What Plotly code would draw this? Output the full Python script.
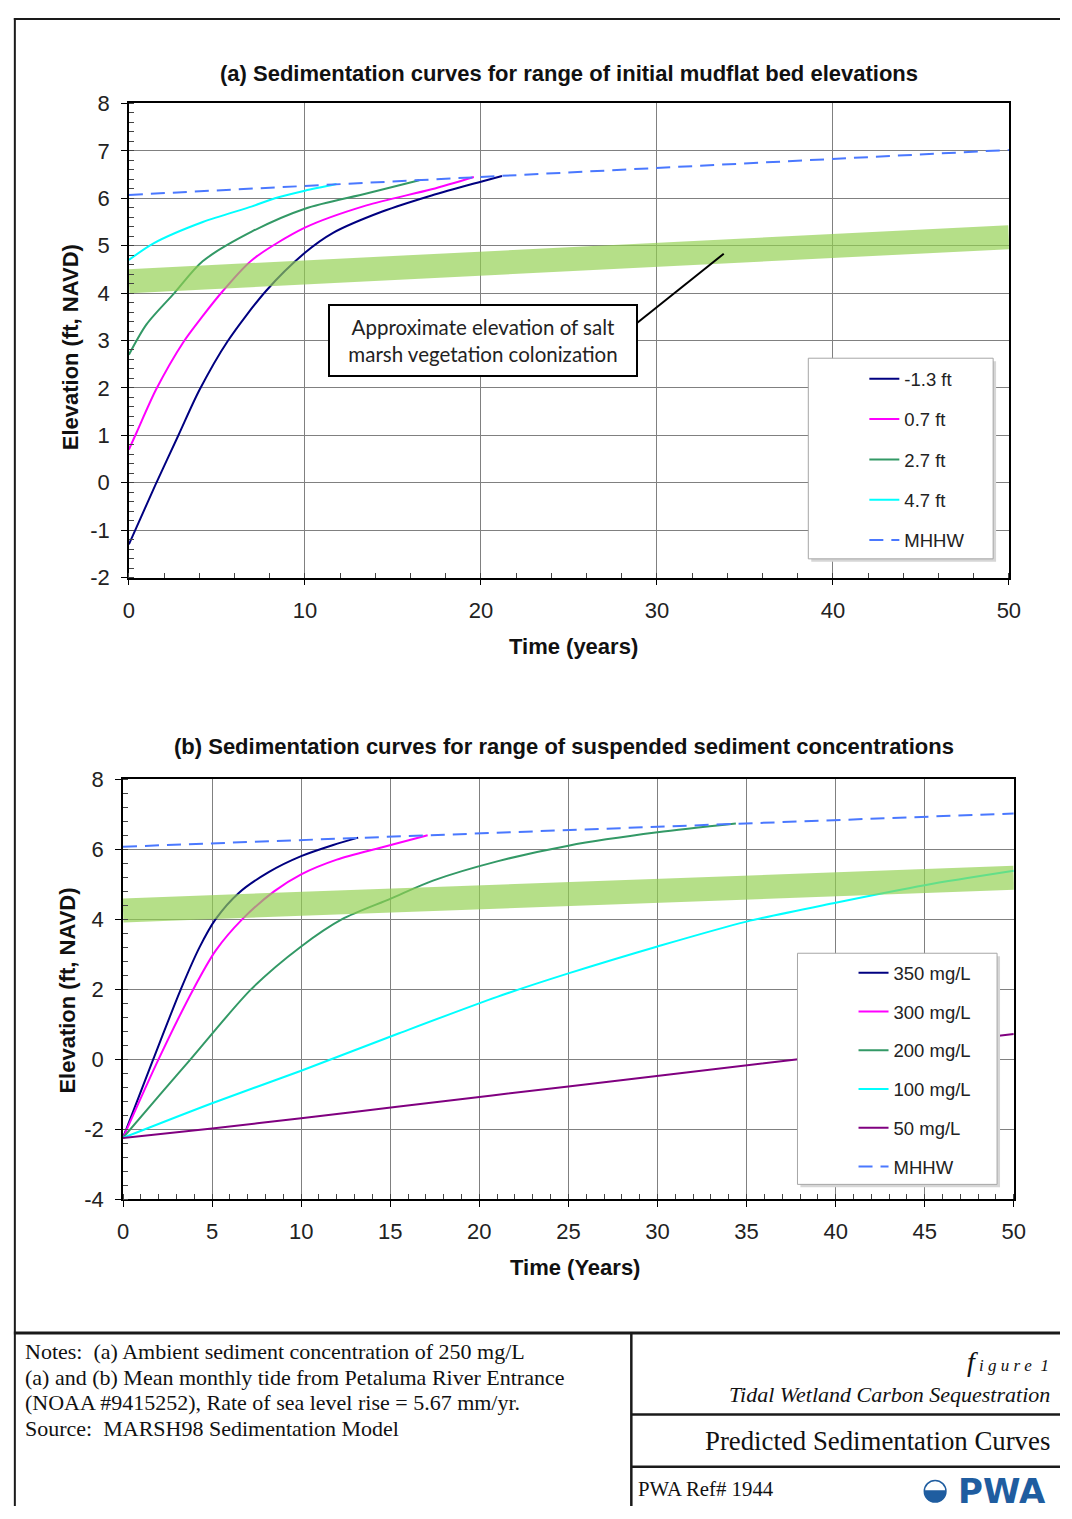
import plotly.graph_objects as go

# page geometry (figure fills the 1072x1519 window)
OX, OY = 0, 0
FW, FH = 1072, 1519

# ---------------- data: panel (a) initial bed elevations ----------------
T_A_M13 = [0, 1.5, 2.8, 4.0, 5.6, 7.8, 10, 11.6, 14.4, 17.2, 20, 21.2]
E_A_M13 = [-1.3, -0.05, 0.99, 1.95, 2.98, 4.05, 4.85, 5.27, 5.72, 6.06, 6.35, 6.47]
T_A_07 = [0, 0.45, 1.55, 3.1, 4.2, 5.35, 7.0, 10, 13.5, 17.2, 19.6]
E_A_07 = [0.7, 1.07, 1.97, 2.97, 3.52, 4.05, 4.7, 5.38, 5.85, 6.19, 6.45]
T_A_27 = [0, 1, 2.58, 4.19, 7, 10, 13.5, 16.5]
E_A_27 = [2.7, 3.34, 4.0, 4.67, 5.30, 5.78, 6.10, 6.38]
T_A_47 = [0, 1.4, 4.2, 7, 8.3, 10, 11.8]
E_A_47 = [4.7, 5.05, 5.5, 5.83, 6.0, 6.16, 6.30]
NAMES_A = ["-1.3 ft", "0.7 ft", "2.7 ft", "4.7 ft"]

# ---------------- data: panel (b) suspended sediment concentrations ----------------
T_B_350 = [0, 1.7, 3.25, 4.3, 5.2, 6.5, 8.2, 10, 11.8, 13.2]
E_B_350 = [-2.25, 0.0, 2.0, 3.2, 4.0, 4.75, 5.35, 5.8, 6.12, 6.33]
T_B_300 = [0, 2.0, 3.95, 5.2, 6.7, 8.5, 10, 12, 14.5, 17.1]
E_B_300 = [-2.25, 0.0, 2.0, 3.1, 4.0, 4.8, 5.28, 5.7, 6.05, 6.40]
T_B_200 = [0, 2.1, 3.8, 7.2, 10, 12.3, 15, 17.4, 21, 25, 30, 34.4]
E_B_200 = [-2.25, -1.0, 0.0, 2.0, 3.22, 4.0, 4.58, 5.1, 5.65, 6.1, 6.48, 6.73]
T_B_100 = [0, 5, 10, 15.5, 21, 25, 30, 35, 40, 45, 50]
E_B_100 = [-2.25, -1.26, -0.33, 0.74, 1.78, 2.45, 3.22, 3.93, 4.47, 4.97, 5.38]
T_B_50 = [0, 5, 10, 15.5, 25, 37.9, 50]
E_B_50 = [-2.25, -1.98, -1.69, -1.35, -0.78, 0.0, 0.72]
NAMES_B = ["350 mg/L", "300 mg/L", "200 mg/L", "100 mg/L", "50 mg/L"]

# ---------------- shared: MHHW and vegetation colonisation band ----------------
T_MHHW = [0, 10, 20, 30, 40, 50]
E_MHHW = [6.07, 6.26, 6.45, 6.64, 6.83, 7.02]
T_BAND = [0, 10, 20, 30, 40, 50]
E_BAND = [4.25, 4.44, 4.62, 4.81, 5.00, 5.18]

# ---------------- tick labels ----------------
X_TICKS_A = [0, 10, 20, 30, 40, 50]
X_TICKS_B = [0, 5, 10, 15, 20, 25, 30, 35, 40, 45, 50]
Y_TICKS_A = [-2, -1, 0, 1, 2, 3, 4, 5, 6, 7, 8]
Y_LABELS_A = ["-2", "-1", "0", "1", "2", "3", "4", "5", "6", "7", "8"]
Y_TICKS_B = [-4, -2, 0, 2, 4, 6, 8]
Y_LABELS_B = ["-4", "-2", "0", "2", "4", "6", "8"]

COLORS = ["#000080", "#ff00ff", "#339966", "#00ffff", "#800080"]
MHHW_COLOR = "#4a78ff"
BAND_COLOR = "rgba(146,208,80,0.68)"
GRID = "#808080"
SANS = "Liberation Sans, Arial, sans-serif"
SERIF = "Liberation Serif, Times New Roman, serif"


def px(X):
    return (X - OX) / FW


def py(Y):
    return 1 - (Y - OY) / FH


fig = go.Figure()

# panel (a) traces
for t, e, name, c in zip([T_A_M13, T_A_07, T_A_27, T_A_47],
                         [E_A_M13, E_A_07, E_A_27, E_A_47], NAMES_A, COLORS):
    fig.add_trace(go.Scatter(x=t, y=e, name=name, mode="lines",
                             line=dict(color=c, width=2, shape="spline", smoothing=0.8),
                             xaxis="x", yaxis="y", legend="legend", legendgroup="a" + name))
fig.add_trace(go.Scatter(x=T_BAND, y=E_BAND, mode="lines", showlegend=False,
                         line=dict(color=BAND_COLOR, width=24), xaxis="x", yaxis="y",
                         hoverinfo="skip"))
fig.add_trace(go.Scatter(x=T_MHHW, y=E_MHHW, name="MHHW", mode="lines",
                         line=dict(color=MHHW_COLOR, width=2, dash="14px,8px"),
                         xaxis="x", yaxis="y", legend="legend", legendgroup="aMHHW"))

# panel (b) traces
for t, e, name, c in zip([T_B_350, T_B_300, T_B_200, T_B_100, T_B_50],
                         [E_B_350, E_B_300, E_B_200, E_B_100, E_B_50], NAMES_B, COLORS):
    fig.add_trace(go.Scatter(x=t, y=e, name=name, mode="lines",
                             line=dict(color=c, width=2, shape="spline", smoothing=0.8),
                             xaxis="x2", yaxis="y2", legend="legend2", legendgroup="b" + name))
fig.add_trace(go.Scatter(x=T_BAND, y=E_BAND, mode="lines", showlegend=False,
                         line=dict(color=BAND_COLOR, width=24), xaxis="x2", yaxis="y2",
                         hoverinfo="skip"))
fig.add_trace(go.Scatter(x=T_MHHW, y=E_MHHW, name="MHHW", mode="lines",
                         line=dict(color=MHHW_COLOR, width=2, dash="14px,8px"),
                         xaxis="x2", yaxis="y2", legend="legend2", legendgroup="bMHHW"))

TICKFONT = dict(family=SANS, size=22, color="#222")


def xax(domain, anchor, ticks, mdtick):
    return dict(domain=domain, anchor=anchor, range=[0, 50], tickmode="array", tickvals=ticks,
                showgrid=True, gridcolor=GRID, gridwidth=1, zeroline=False,
                showline=True, mirror=True, linecolor="black", linewidth=1.5,
                ticks="outside", ticklen=6, tickcolor="black",
                minor=dict(ticks="inside", dtick=mdtick, tick0=0, ticklen=5, tickcolor="#444",
                           showgrid=False),
                tickfont=TICKFONT, ticklabelstandoff=6, fixedrange=True)


def yax(domain, anchor, rng, ticks, labels, mdtick):
    return dict(domain=domain, anchor=anchor, range=rng, tickmode="array", tickvals=ticks,
                ticktext=labels, showgrid=True, gridcolor=GRID, gridwidth=1, zeroline=False,
                showline=True, mirror=True, linecolor="black", linewidth=1.5,
                ticks="outside", ticklen=6, tickcolor="black",
                minor=dict(ticks="inside", dtick=mdtick, tick0=0, ticklen=5, tickcolor="#444",
                           showgrid=False),
                tickfont=TICKFONT, ticklabelstandoff=7, fixedrange=True)


LEG_FONT = dict(family=SANS, size=18.5, color="#222")

fig.update_layout(
    width=FW, height=FH, margin=dict(l=0, r=0, t=0, b=0),
    paper_bgcolor="white", plot_bgcolor="white",
    xaxis=xax([px(125), px(1020)], "y", X_TICKS_A, 2),
    yaxis=yax([py(575), py(93)], "x", [-2, 8], Y_TICKS_A, Y_LABELS_A, 0.2),
    xaxis2=xax([px(119), px(1025)], "y2", X_TICKS_B, 1),
    yaxis2=yax([py(1207), py(780)], "x2", [-4, 8], Y_TICKS_B, Y_LABELS_B, 0.4),
    legend=dict(x=px(873), y=py(354), xanchor="left", yanchor="top",
                bgcolor="rgba(0,0,0,0)", borderwidth=0, font=LEG_FONT,
                tracegroupgap=13.3, traceorder="grouped"),
    legend2=dict(x=px(862), y=py(958), xanchor="left", yanchor="top",
                 bgcolor="rgba(0,0,0,0)", borderwidth=0, font=LEG_FONT,
                 tracegroupgap=11.7, traceorder="grouped"),
    showlegend=True,
)

shapes = []
# legend frames (with soft shadow)
for (x0, y0, x1, y1) in [(816, 352, 1004, 556), (805, 957, 1008, 1192)]:
    shapes.append(dict(type="rect", xref="paper", yref="paper", layer="above",
                       x0=px(x0 + 3), x1=px(x1 + 3), y0=py(y1 + 3), y1=py(y0 + 3),
                       fillcolor="#d6d6d6", line=dict(width=0)))
    shapes.append(dict(type="rect", xref="paper", yref="paper", layer="above",
                       x0=px(x0), x1=px(x1), y0=py(y1), y1=py(y0),
                       fillcolor="white", line=dict(color="#a6a6a6", width=1)))

# callout leader line (panel a)
shapes.append(dict(type="line", xref="x", yref="y", x0=28.8, y0=3.35, x1=33.8, y1=4.83,
                   line=dict(color="black", width=2), layer="above"))


# page frame
def hline(Y, X0, X1, w):
    return dict(type="line", xref="paper", yref="paper", x0=px(X0), x1=px(X1),
                y0=py(Y), y1=py(Y), line=dict(color="#1a1a1a", width=w))


def vline(X, Y0, Y1, w):
    return dict(type="line", xref="paper", yref="paper", x0=px(X), x1=px(X),
                y0=py(Y0), y1=py(Y1), line=dict(color="#1a1a1a", width=w))


shapes += [vline(9, 6, 1519, 2), hline(7, 8, 1072, 2), hline(1343, 8, 1072, 3),
           vline(636, 1343, 1519, 2.5), hline(1426, 636, 1072, 2.5), hline(1479, 636, 1072, 2.5)]

# PWA logo mark
cx, cy, r = 945, 1504, 11
k = 0.5523
shapes.append(dict(type="circle", xref="paper", yref="paper",
                   x0=px(cx - r), x1=px(cx + r), y0=py(cy + r), y1=py(cy - r),
                   fillcolor="white", line=dict(color="#1f5da0", width=1.5)))
pts = [(cx - r, cy - 1), (cx - r, cy + k * r), (cx - k * r, cy + r), (cx, cy + r),
       (cx + k * r, cy + r), (cx + r, cy + k * r), (cx + r, cy - 1)]
pth = "M{:.5f},{:.5f} C{:.5f},{:.5f} {:.5f},{:.5f} {:.5f},{:.5f} C{:.5f},{:.5f} {:.5f},{:.5f} {:.5f},{:.5f} Z".format(
    *[v for p in pts for v in (px(p[0]), py(p[1]))])
shapes.append(dict(type="path", xref="paper", yref="paper", path=pth,
                   fillcolor="#1f5da0", line=dict(width=0)))

fig.update_layout(shapes=shapes)


def note(text, X, Y, font, xanchor="center", yanchor="middle", **kw):
    d = dict(text=text, x=px(X), y=py(Y), xref="paper", yref="paper", showarrow=False,
             xanchor=xanchor, yanchor=yanchor, font=font)
    d.update(kw)
    return d


BOLD = dict(family=SANS, color="#111", size=22)
ann = [
    note("<b>(a) Sedimentation curves for range of initial mudflat bed elevations</b>", 573, 63, BOLD),
    note("<b>(b) Sedimentation curves for range of suspended sediment concentrations</b>", 568, 747, BOLD),
    note("<b>Time (years)</b>", 577, 645, BOLD),
    note("<b>Time (Years)</b>", 579, 1277, BOLD),
    note("<b>Elevation (ft, NAVD)</b>", 65, 341, BOLD, textangle=-90),
    note("<b>Elevation (ft, NAVD)</b>", 63, 995, BOLD, textangle=-90),
    note("Approximate elevation of salt<br>marsh vegetation colonization", 485, 334.5,
         dict(family="Lato, Open Sans, sans-serif", size=20.5, color="#222"),
         align="center", width=298, height=61, bgcolor="white", bordercolor="black",
         borderwidth=2, borderpad=4),
]
NOTE_FONT = dict(family=SERIF, size=22, color="#111")
NOTE_LINES = ["Notes:\u00a0 (a) Ambient sediment concentration of 250 mg/L",
              "(a) and (b) Mean monthly tide from Petaluma River Entrance",
              "(NOAA #9415252), Rate of sea level rise = 5.67 mm/yr.",
              "Source:\u00a0 MARSH98 Sedimentation Model"]
for i, line in enumerate(NOTE_LINES):
    ann.append(note(line, 17, 1362 + 26 * i, NOTE_FONT, xanchor="left"))
ann += [
    note("<i><span style='font-size:28px'>f</span> i g u r e\u00a0 1</i>", 1063, 1372,
         dict(family=SERIF, size=17, color="#111"), xanchor="right"),
    note("<i>Tidal Wetland Carbon Sequestration</i>", 1064, 1406,
         dict(family=SERIF, size=22, color="#111"), xanchor="right"),
    note("Predicted Sedimentation Curves", 1064, 1453,
         dict(family=SERIF, size=26.8, color="#111"), xanchor="right"),
    note("PWA Ref# 1944", 641, 1501, dict(family=SERIF, size=20.8, color="#111"), xanchor="left"),
    note("<b>PWA</b>", 966, 1504, dict(family="DejaVu Sans, sans-serif", size=34, color="#1f5da0"),
         xanchor="left"),
]
fig.update_layout(annotations=ann)

fig.write_html("out.html")
